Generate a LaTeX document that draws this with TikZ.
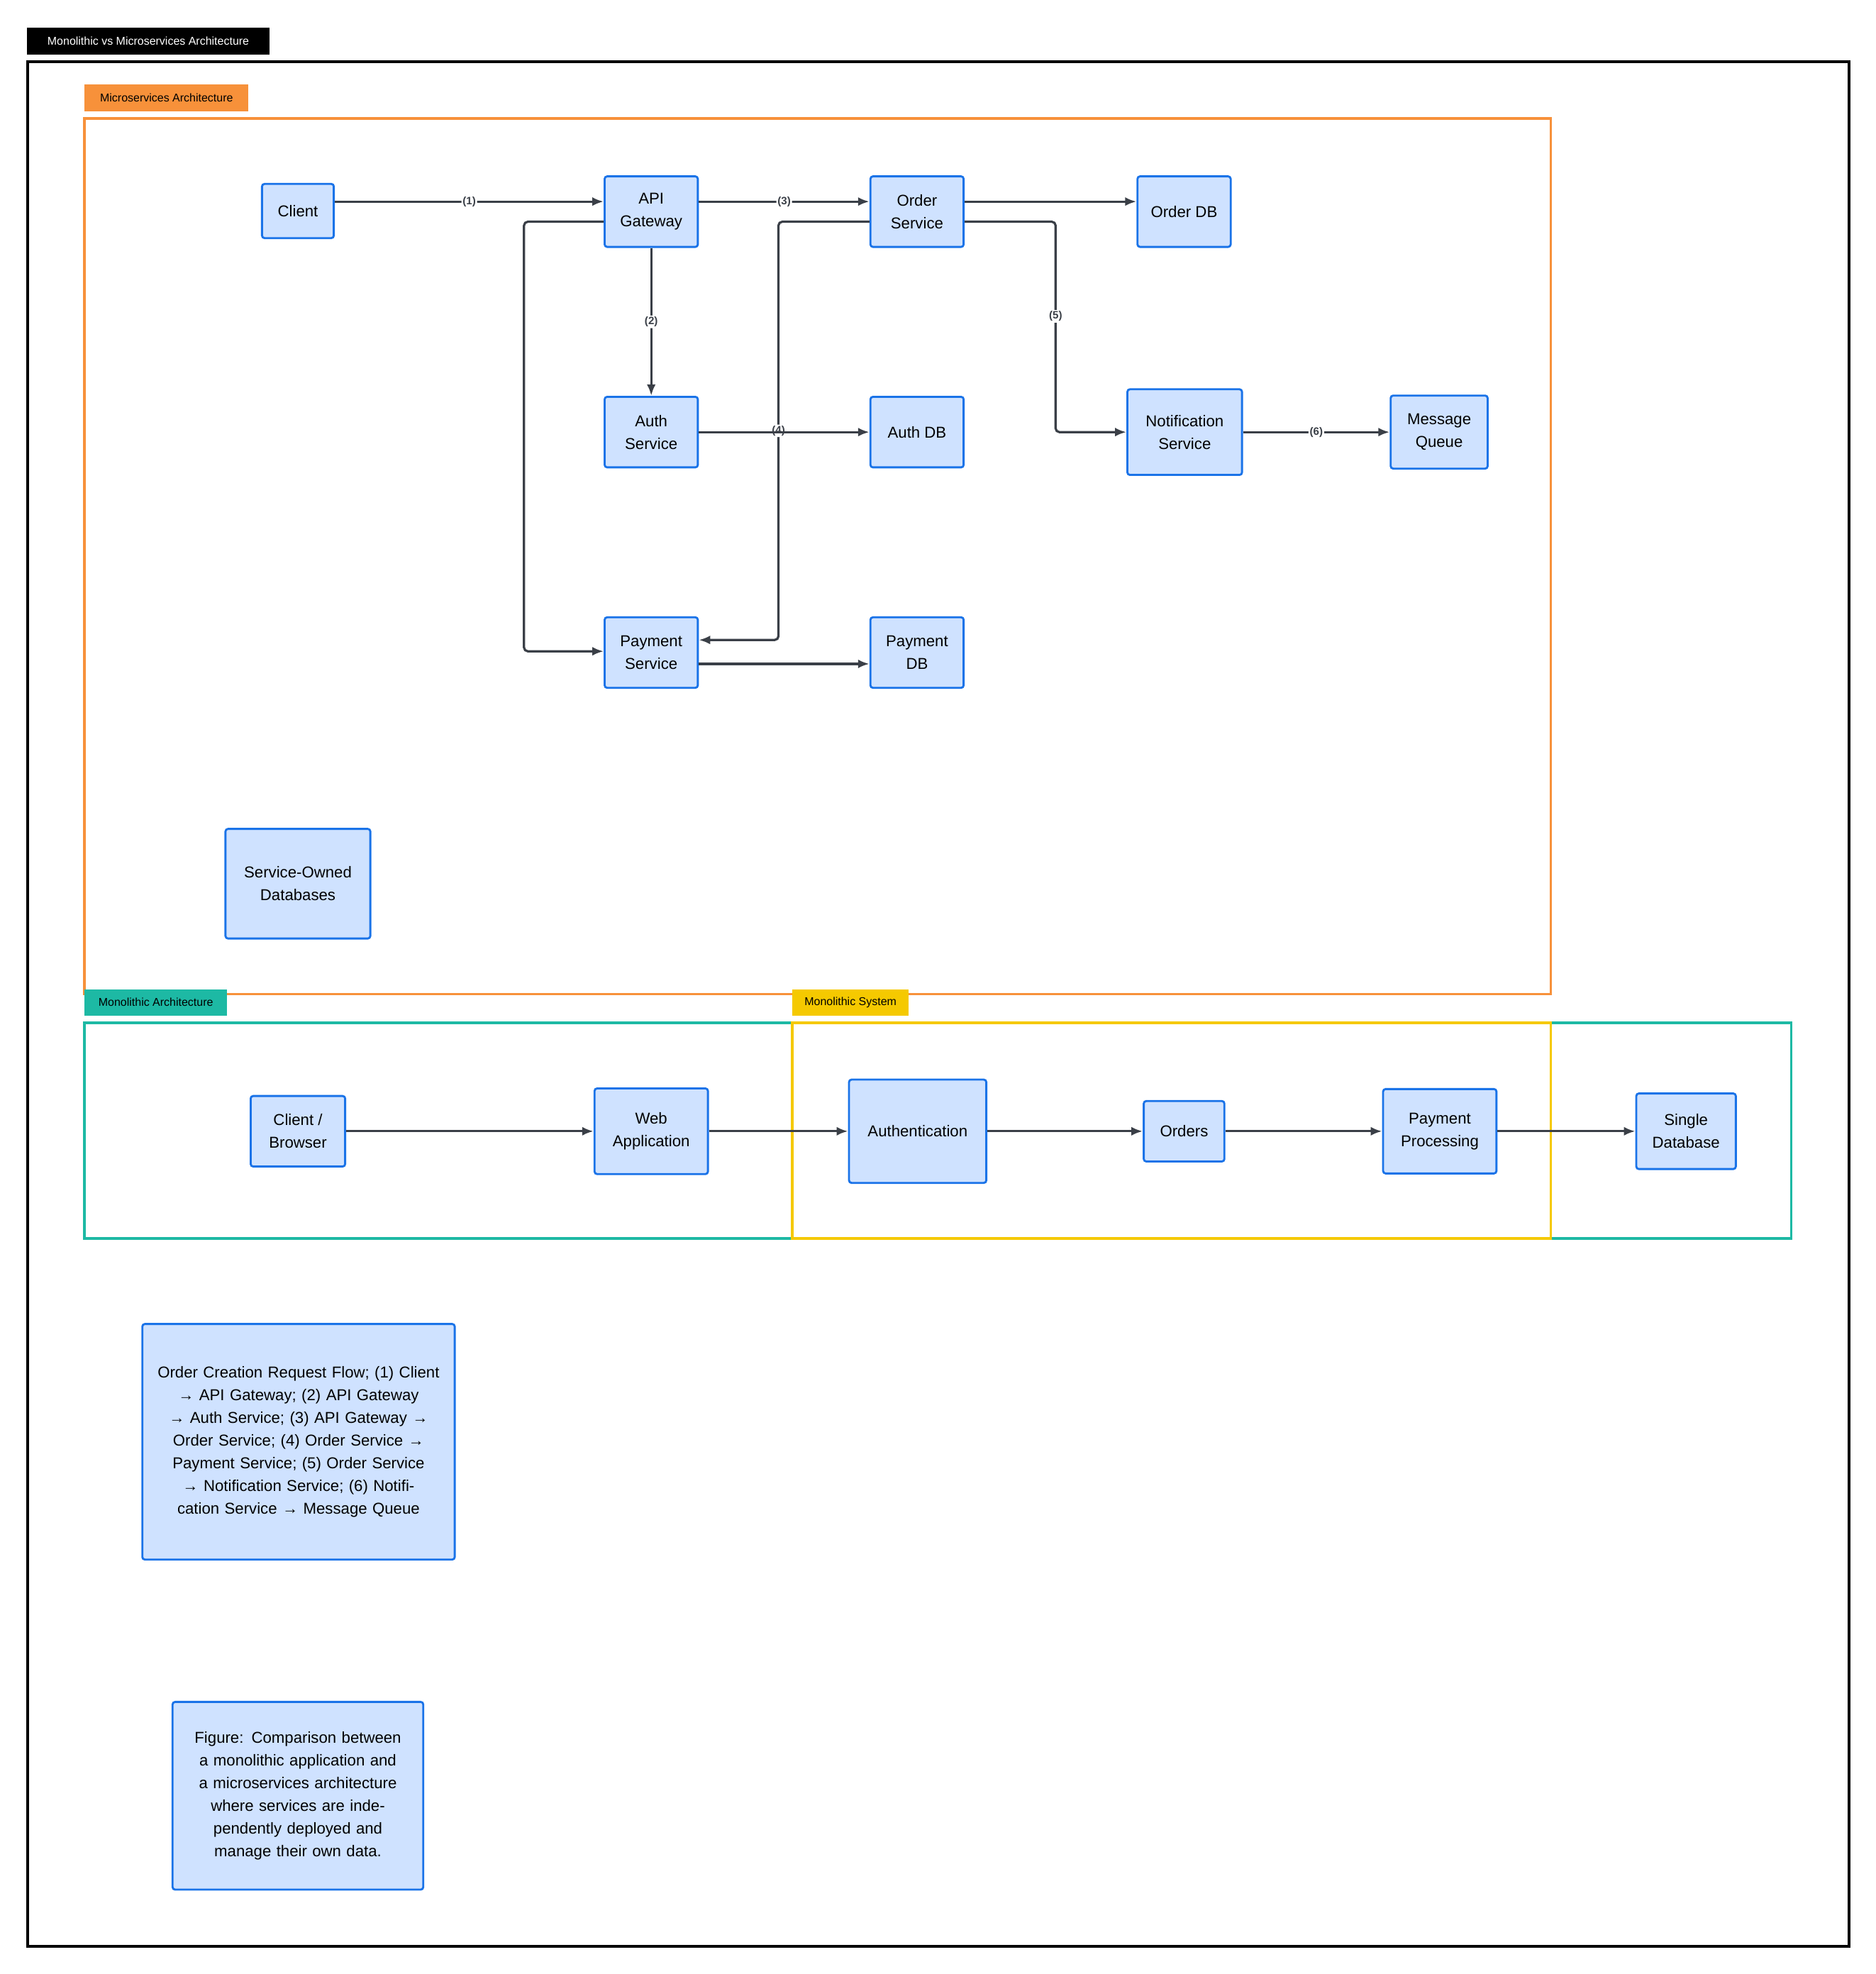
\documentclass[tikz,border=0pt]{standalone}
\usepackage{fontspec}
\setmainfont{Liberation Sans}
\usetikzlibrary{arrows.meta}
\definecolor{nfill}{HTML}{CFE2FF}
\definecolor{nline}{HTML}{1A73E8}
\definecolor{eline}{HTML}{3A3F47}
\definecolor{orng}{HTML}{F7913A}
\definecolor{teal}{HTML}{1DB9A4}
\definecolor{yel}{HTML}{F5C900}
\begin{document}
\begin{tikzpicture}[x=1pt,y=-1pt,
  nd/.style={draw=nline,fill=nfill,line width=1.6pt,rounded corners=2pt,align=center,inner sep=0pt,font=\fontsize{12.5}{18}\selectfont},
  e/.style={draw=eline,line width=1.8pt,-{Latex[length=9pt,width=7pt]},rounded corners=3pt},
  lb/.style={fill=white,inner sep=1pt,font=\fontsize{8.5}{10}\selectfont\bfseries,text=eline},
  tag/.style={anchor=north west,inner sep=0pt,minimum height=21pt,font=\fontsize{9}{10}\selectfont}]
\useasboundingbox (0,0) rectangle (1489,1567);
% frames
\draw[line width=2pt] (22,49) rectangle (1468,1545);
\node[tag,fill=black,text=white,minimum width=193pt] (title) at (21,22) {Monolithic vs Microservices Architecture};
\draw[orng,line width=2pt] (67,94) rectangle (1231,789);
\node[tag,fill=orng,text=black,minimum width=130pt] (tm) at (67,67) {Microservices Architecture};
\draw[teal,line width=2pt] (67,812) rectangle (1422,983);
\draw[yel,line width=2pt] (629,812) rectangle (1231,983);
\node[tag,fill=teal,text=black,minimum width=113pt] (ta) at (67,785) {Monolithic Architecture};
\node[tag,fill=yel,text=black,minimum width=92pt] (ts) at (629,785) {Monolithic System};
% micro nodes
\node[nd,minimum width=57pt,minimum height=43pt] (client) at (236.5,167.5) {Client};
\node[nd,minimum width=74pt,minimum height=56pt] (api) at (517,168) {API\\Gateway};
\node[nd,minimum width=74pt,minimum height=56pt] (order) at (728,168) {Order\\Service};
\node[nd,minimum width=74pt,minimum height=56pt] (odb) at (940,168) {Order DB};
\node[nd,minimum width=74pt,minimum height=56pt] (auth) at (517,343) {Auth\\Service};
\node[nd,minimum width=74pt,minimum height=56pt] (adb) at (728,343) {Auth DB};
\node[nd,minimum width=91pt,minimum height=68pt] (notif) at (940.5,343) {Notification\\Service};
\node[nd,minimum width=77pt,minimum height=58pt] (mq) at (1142.5,343) {Message\\Queue};
\node[nd,minimum width=74pt,minimum height=56pt] (pay) at (517,518) {Payment\\Service};
\node[nd,minimum width=74pt,minimum height=56pt] (pdb) at (728,518) {Payment\\DB};
\node[nd,minimum width=115pt,minimum height=87pt] (sod) at (236.5,701.5) {Service-Owned\\Databases};
% mono nodes
\node[nd,minimum width=75pt,minimum height=56pt] (cb) at (236.5,898) {Client /\\Browser};
\node[nd,minimum width=90pt,minimum height=68pt] (web) at (517,898) {Web\\Application};
\node[nd,minimum width=109pt,minimum height=82pt] (authn) at (728.5,898) {Authentication};
\node[nd,minimum width=64pt,minimum height=48pt] (orders) at (940,898) {Orders};
\node[nd,minimum width=90pt,minimum height=67pt] (pp) at (1143,898) {Payment\\Processing};
\node[nd,minimum width=79pt,minimum height=60pt] (sdb) at (1338.5,898) {Single\\Database};
% notes
\node[nd,minimum width=248pt,minimum height=187pt,text width=236pt] (flow) at (237,1144.5) {Order Creation Request Flow; (1) Client → API Gateway; (2) API Gateway → Auth Service; (3) API Gateway → Order Service; (4) Order Service → Payment Service; (5) Order Service → Notification Service; (6) Notification Service → Message Queue};
\node[nd,minimum width=199pt,minimum height=149pt,text width=186pt] (fig) at (236.5,1425.5) {Figure: Comparison between a monolithic application and a microservices architecture where services are independently deployed and manage their own data.};
% edges
\draw[e] (client.east|-0,160) -- node[lb]{(1)} (api.west|-0,160);
\draw[e] (api.east|-0,160) -- node[lb]{(3)} (order.west|-0,160);
\draw[e] (api.south) -- node[lb]{(2)} (auth.north);
\draw[e] (api.west|-0,176) -- (416,176) -- (416,517) -- (pay.west|-0,517);
\draw[e] (order.east|-0,160) -- (odb.west|-0,160);
\draw[e] (order.west|-0,176) -- (618,176) -- node[lb,pos=0.5]{(4)} (618,508) -- (pay.east|-0,508);
\draw[e] (order.east|-0,176) -- (838,176) -- node[lb,pos=0.45]{(5)} (838,343) -- (notif.west);
\draw[e] (auth.east) -- (adb.west);
\draw[e] (notif.east) -- node[lb]{(6)} (mq.west);
\draw[e] (pay.east|-0,527) -- (pdb.west|-0,527);
\draw[e] (cb) -- (web);
\draw[e] (web) -- (authn);
\draw[e] (authn) -- (orders);
\draw[e] (orders) -- (pp);
\draw[e] (pp) -- (sdb);
\end{tikzpicture}
\end{document}
